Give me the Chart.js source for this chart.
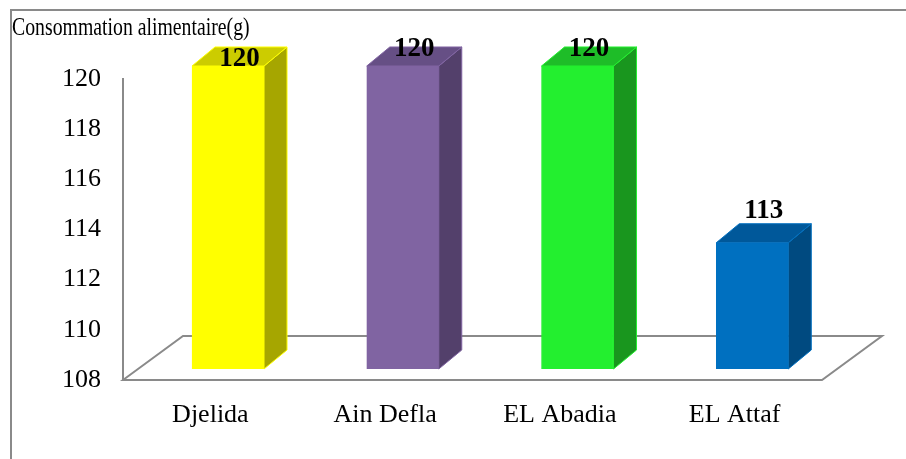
<!DOCTYPE html>
<html>
<head>
<meta charset="utf-8">
<script src="https://cdn.jsdelivr.net/npm/chart.js@4.4.1/dist/chart.umd.min.js"></script>
<style>
  html, body { margin: 0; padding: 0; background: #ffffff; }
  canvas { display: block; }
</style>
</head>
<body>
<canvas id="consoChart" width="906" height="459"></canvas>
<script>
// =============== DATA ===============
const regions = ['Djelida', 'Ain Defla', 'EL Abadia', 'EL Attaf'];
const consommation = [120, 120, 120, 113];
const yTicks = [108, 110, 112, 114, 116, 118, 120];
const titre = 'Consommation alimentaire(g)';

// couleurs : face avant, cote, dessus
const frontColors = ['#ffff00', '#8064a2', '#23ef2f', '#0070c0'];
const sideColors  = ['#a6a600', '#53406b', '#19961e', '#004a80'];
const topColors   = ['#cccc00', '#664f85', '#1ebd28', '#00589a'];

const serif = "'Liberation Serif', 'Times New Roman', serif";
const gris = '#8a8a8a';

// profondeur des barres et du sol (effet 3D)
const barDepth = { dx: 23, dy: -19 };
const floorDepth = { dx: 60, dy: -44 };

// =============== 3D PLUGIN ===============
const bar3d = {
    id: 'bar3d',
    beforeDraw(chart) {
        const ctx = chart.ctx;
        // cadre exterieur (gauche + haut)
        ctx.save();
        ctx.strokeStyle = gris;
        ctx.lineWidth = 2;
        ctx.beginPath();
        ctx.moveTo(11, chart.height);
        ctx.lineTo(11, 10);
        ctx.lineTo(chart.width, 10);
        ctx.stroke();

        // titre, police condensee
        ctx.fillStyle = '#000';
        ctx.font = '26px ' + serif;
        ctx.textBaseline = 'alphabetic';
        ctx.translate(12, 35);
        ctx.scale(0.76, 1);
        ctx.fillText(titre, 0, 0);
        ctx.restore();
    },
    beforeDatasetsDraw(chart) {
        // sol en perspective
        const { ctx, chartArea: a } = chart;
        ctx.save();
        ctx.strokeStyle = gris;
        ctx.lineWidth = 2;
        ctx.beginPath();
        ctx.moveTo(a.left, a.bottom);
        ctx.lineTo(a.left + floorDepth.dx, a.bottom + floorDepth.dy);
        ctx.lineTo(a.right + floorDepth.dx, a.bottom + floorDepth.dy);
        ctx.lineTo(a.right, a.bottom);
        ctx.closePath();
        ctx.stroke();
        ctx.restore();
    },
    afterDatasetsDraw(chart) {
        const ctx = chart.ctx;
        const meta = chart.getDatasetMeta(0);
        const { dx, dy } = barDepth;
        ctx.save();
        ctx.lineWidth = 1;
        meta.data.forEach((bar, i) => {
            const half = bar.width / 2;
            const l = bar.x - half, r = bar.x + half;
            const t = bar.y, b = bar.base;
            ctx.strokeStyle = frontColors[i];

            // cote droit
            ctx.fillStyle = sideColors[i];
            ctx.beginPath();
            ctx.moveTo(r, t);
            ctx.lineTo(r + dx, t + dy);
            ctx.lineTo(r + dx, b + dy);
            ctx.lineTo(r, b);
            ctx.closePath();
            ctx.fill();
            ctx.stroke();

            // dessus
            ctx.fillStyle = topColors[i];
            ctx.beginPath();
            ctx.moveTo(l, t);
            ctx.lineTo(l + dx, t + dy);
            ctx.lineTo(r + dx, t + dy);
            ctx.lineTo(r, t);
            ctx.closePath();
            ctx.fill();
            ctx.stroke();
        });

        // etiquettes de valeur
        ctx.fillStyle = '#000';
        ctx.font = 'bold 27px ' + serif;
        ctx.textAlign = 'center';
        ctx.textBaseline = 'alphabetic';
        meta.data.forEach((bar, i) => {
            const txt = String(consommation[i]);
            const cx = bar.x + dx / 2;
            let baseline = Math.max(bar.y + dy - 6, 56);
            const w = ctx.measureText(txt).width;
            // ne pas chevaucher le titre
            if (cx - w / 2 < 250 && baseline - 19 < 47) baseline = 66;
            ctx.fillText(txt, cx, baseline);
        });
        ctx.restore();
    }
};

// =============== CHART ===============
const ctx = document.getElementById('consoChart').getContext('2d');
new Chart(ctx, {
    type: 'bar',
    data: {
        labels: regions,
        datasets: [{
            label: titre,
            data: consommation.map((v, i) => ({ x: i, y: v })),
            base: 108,
            backgroundColor: frontColors,
            borderColor: frontColors,
            borderWidth: 1,
            barThickness: 72,
            xAxisID: 'xb',
            yAxisID: 'yb',
            clip: false
        }]
    },
    options: {
        responsive: false,
        animation: false,
        layout: { padding: { top: 79, right: 84, left: 0, bottom: 0 } },
        plugins: {
            legend: { display: false },
            tooltip: { enabled: false }
        },
        scales: {
            x: {
                type: 'category',
                position: 'bottom',
                grid: { display: false },
                border: { display: false },
                ticks: {
                    color: '#000',
                    font: { family: serif, size: 26 },
                    padding: 12
                },
                afterFit(scale) { scale.height = 79; }
            },
            y: {
                type: 'linear',
                position: 'left',
                min: 108,
                max: 120,
                afterBuildTicks(scale) {
                    scale.ticks = yTicks.map(v => ({ value: v }));
                },
                grid: { display: true, drawOnChartArea: false, drawTicks: false },
                border: { display: true, color: gris, width: 2 },
                ticks: {
                    color: '#000',
                    font: { family: serif, size: 26 },
                    padding: 22
                },
                afterFit(scale) { scale.width = 123; }
            },
            // axes caches pour placer les barres en perspective
            xb: {
                type: 'linear',
                display: false,
                offset: false,
                min: -0.601,
                max: 3.399
            },
            yb: {
                type: 'linear',
                display: false,
                min: 107.564,
                max: 119.485
            }
        }
    },
    plugins: [bar3d]
});
</script>
</body>
</html>
